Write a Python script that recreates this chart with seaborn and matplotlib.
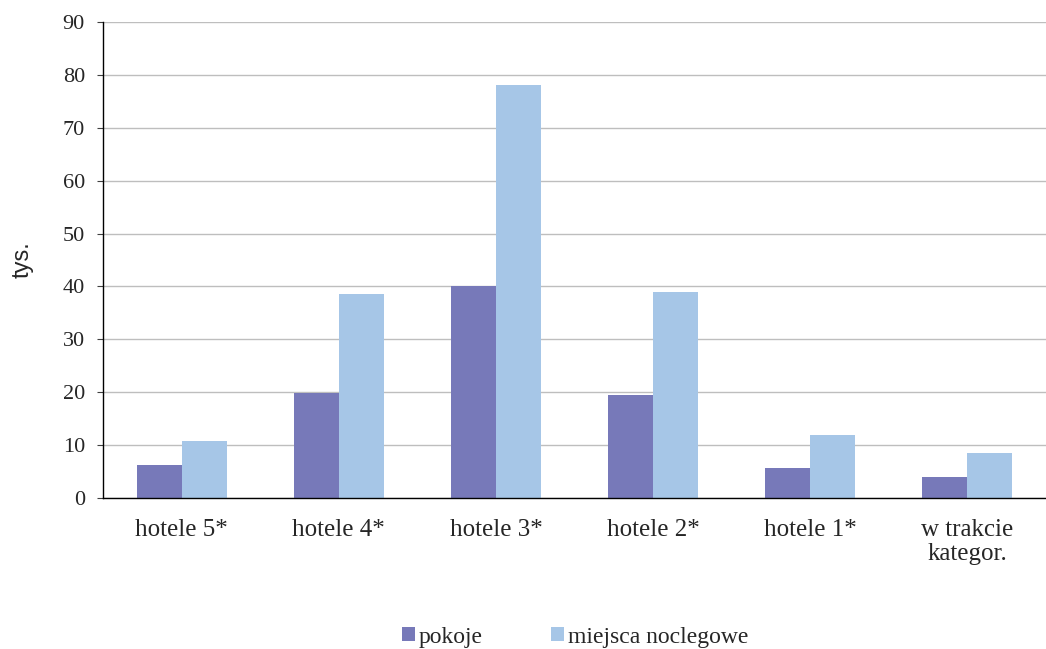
import matplotlib
matplotlib.use('Agg')
import matplotlib.pyplot as plt
import seaborn as sns
import pandas as pd

# data (thousands)
categories = ['hotele 5*', 'hotele 4*', 'hotele 3*', 'hotele 2*', 'hotele 1*', 'w trakcie\nkategor.']
pokoje = [6.2, 19.8, 40.0, 19.4, 5.7, 4.0]
miejsca = [10.8, 38.6, 78.0, 39.0, 12.0, 8.5]
series_names = ['pokoje', 'miejsca noclegowe']
y_ticks = list(range(0, 100, 10))

df = pd.DataFrame({
    'kategoria': categories * 2,
    'wartosc': pokoje + miejsca,
    'seria': [series_names[0]] * len(categories) + [series_names[1]] * len(categories),
})

sns.set_style('white')
plt.rcParams['font.family'] = ['Liberation Serif', 'DejaVu Serif']

fig = plt.figure(figsize=(10.46, 6.49), dpi=100)
ax = fig.add_axes([103 / 1046, 1 - 498 / 649, 943 / 1046, 476 / 649])

sns.barplot(
    data=df, x='kategoria', y='wartosc', hue='seria',
    order=categories, hue_order=series_names,
    palette=['#7779B9', '#A6C6E7'], width=0.573, gap=0,
    linewidth=0, saturation=1, ax=ax, legend=True,
)

ax.set_xlim(-0.5, 5.438)
ax.set_ylim(0, 90)
ax.set_yticks(y_ticks)
ax.yaxis.grid(True, color='#BEBEBE', linewidth=1)
ax.set_axisbelow(True)

for side in ['top', 'right']:
    ax.spines[side].set_visible(False)
for side in ['left', 'bottom']:
    ax.spines[side].set_color('black')
    ax.spines[side].set_linewidth(1.0)

# category boundary ticks on x axis
ax.set_xticks([i - 0.5 for i in range(len(categories) + 1)], minor=True)
ax.tick_params(axis='x', which='minor', length=5, width=0.8, color='#404040', direction='out')
ax.tick_params(axis='x', which='major', length=0, pad=15, labelsize=18)
ax.tick_params(axis='y', which='major', length=4, width=0.8, color='#404040', direction='out',
               left=True, pad=9, labelsize=16)
for lbl in ax.get_xticklabels():
    lbl.set_linespacing(1.15)

ax.set_xlabel('')
ax.set_ylabel('tys.', family=['Liberation Sans', 'DejaVu Sans'], fontsize=17, labelpad=21)

handles, labels = ax.get_legend_handles_labels()
ax.get_legend().remove()
fig.legend(handles, labels, loc='center', bbox_to_anchor=(575 / 1046, 1 - 637 / 649),
           ncol=2, frameon=False, fontsize=17, handlelength=0.55, handleheight=0.55,
           handletextpad=0.17, columnspacing=2.9, borderpad=0)

fig.savefig('out.png', dpi=100)
